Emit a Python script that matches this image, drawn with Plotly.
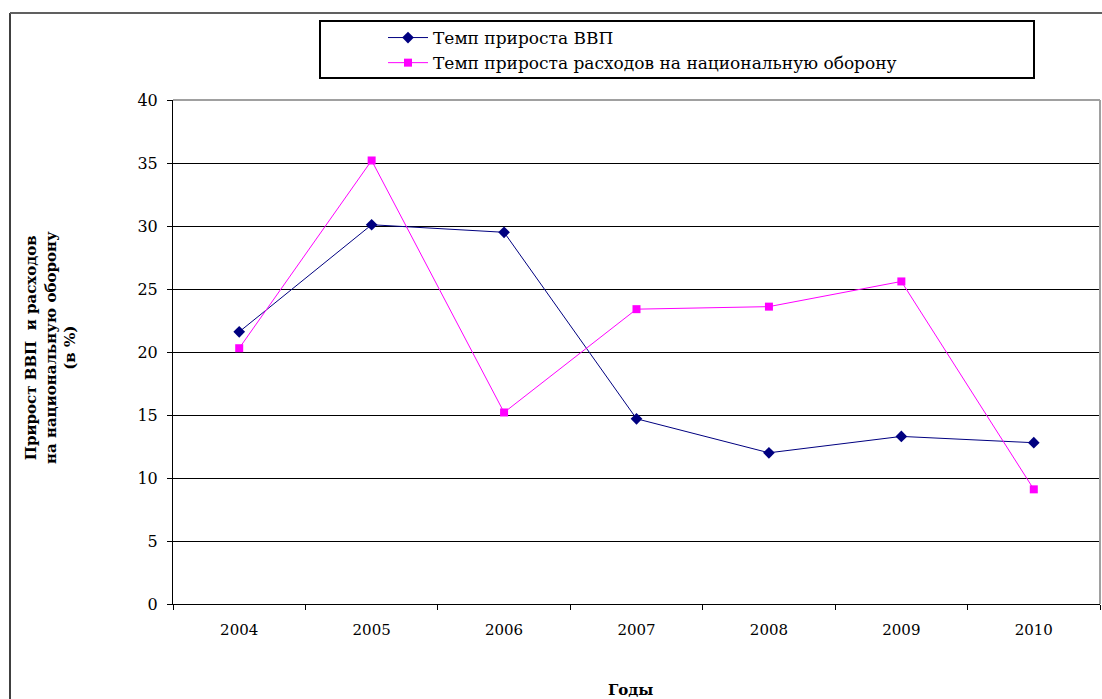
import plotly.graph_objects as go

years = ["2004", "2005", "2006", "2007", "2008", "2009", "2010"]
gdp_growth = [21.6, 30.1, 29.5, 14.7, 12.0, 13.3, 12.8]
defense_growth = [20.3, 35.2, 15.2, 23.4, 23.6, 25.6, 9.1]
y_ticks = [0, 5, 10, 15, 20, 25, 30, 35, 40]

W, H = 1102, 699
L, R, T, B = 173, 2, 100, 95
pw, ph = W - L - R, H - T - B

def px(x):
    return (x - L) / pw

def py(y):
    return (H - B - y) / ph

font_serif = "DejaVu Serif, Liberation Serif, serif"

fig = go.Figure()
fig.add_trace(go.Scatter(
    x=years, y=gdp_growth, mode="lines+markers",
    name="Темп прироста ВВП",
    line=dict(color="#000080", width=1),
    marker=dict(symbol="diamond", size=9, color="#000080"),
))
fig.add_trace(go.Scatter(
    x=years, y=defense_growth, mode="lines+markers",
    name="Темп прироста расходов на национальную оборону",
    line=dict(color="#FF00FF", width=1),
    marker=dict(symbol="square", size=8, color="#FF00FF"),
))

fig.update_layout(
    width=W, height=H,
    margin=dict(l=L, r=R, t=T, b=B),
    paper_bgcolor="white", plot_bgcolor="white",
    font=dict(family=font_serif, size=14, color="black"),
    showlegend=True,
    legend=dict(
        x=px(383), y=py(20), xanchor="left", yanchor="top",
        bgcolor="rgba(0,0,0,0)", borderwidth=0,
        font=dict(family=font_serif, size=17, color="black"),
        tracegroupgap=0, itemwidth=40,
    ),
    xaxis=dict(
        type="category", tickson="boundaries", ticks="outside", ticklen=5,
        tickcolor="black", showline=True, linecolor="black", linewidth=1,
        showgrid=False, zeroline=False, range=[-0.5, 6.5],
        tickfont=dict(family=font_serif, size=15), ticklabelstandoff=12,
    ),
    yaxis=dict(
        range=[0, 40], tickvals=y_ticks, ticks="outside", ticklen=5,
        tickcolor="black", showline=True, linecolor="black", linewidth=1,
        showgrid=True, gridcolor="black", gridwidth=1, zeroline=False,
        tickfont=dict(family=font_serif, size=16), ticklabelstandoff=6,
    ),
    shapes=[
        dict(type="line", xref="paper", yref="paper", x0=0, x1=1, y0=1, y1=1,
             line=dict(color="#A0A0A0", width=2), layer="above"),
        dict(type="line", xref="paper", yref="paper", x0=1, x1=1, y0=0, y1=1,
             line=dict(color="#A0A0A0", width=2), layer="above"),
        dict(type="line", xref="paper", yref="paper", x0=px(10), x1=px(10), y0=py(H + 5), y1=py(13),
             line=dict(color="#404040", width=2)),
        dict(type="line", xref="paper", yref="paper", x0=px(10), x1=px(W + 5), y0=py(13), y1=py(13),
             line=dict(color="#606060", width=2)),
        dict(type="rect", xref="paper", yref="paper", x0=px(320), x1=px(1034), y0=py(78), y1=py(21),
             line=dict(color="black", width=2)),
    ],
    annotations=[
        dict(text="<b>Прирост ВВП  и расходов<br>на национальную оборону<br>(в %)</b>",
             xref="paper", yref="paper", x=px(50), y=py(348), textangle=-90,
             xanchor="center", yanchor="middle",
             showarrow=False, font=dict(family=font_serif, size=15, color="black")),
        dict(text="<b>Годы</b>", xref="paper", yref="paper", x=px(630), y=py(690),
             xanchor="center", yanchor="middle",
             showarrow=False, font=dict(family=font_serif, size=15, color="black")),
    ],
)

fig.write_html("out.html", config={"displayModeBar": False},
               post_script="document.body.style.margin='0';document.body.style.overflow='hidden';")
